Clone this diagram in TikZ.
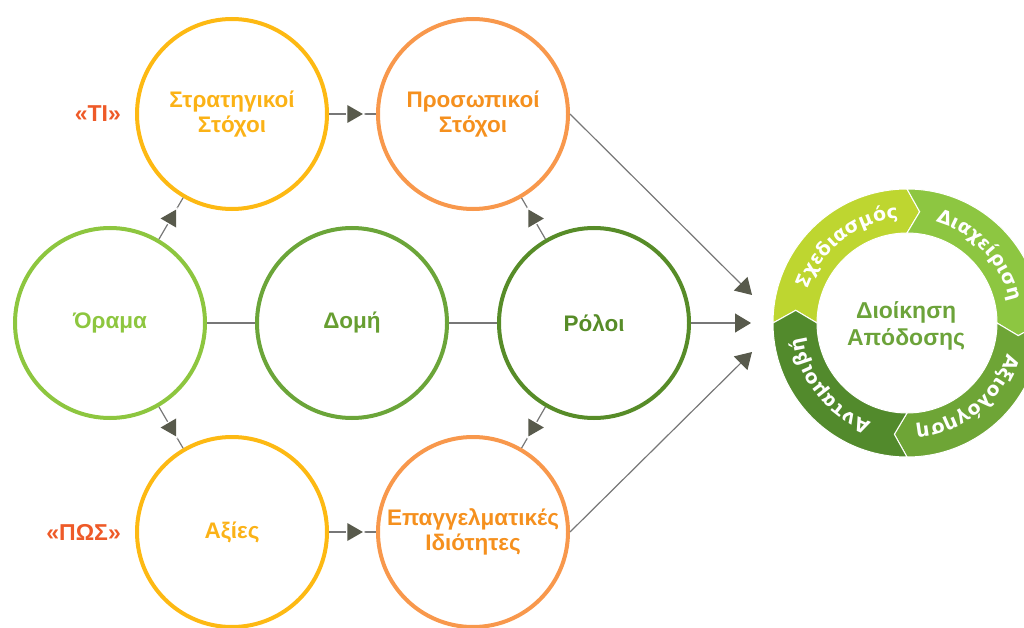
\documentclass[tikz,border=0pt]{standalone}
\usepackage{fontspec}
\setmainfont{Liberation Sans}
\newfontfamily\ringfam[LetterSpace=8]{DejaVu Sans}
\usetikzlibrary{arrows.meta,decorations.markings,decorations.text,calc}

\definecolor{gold}{HTML}{FDB913}
\definecolor{goldtxt}{HTML}{FBB216}
\definecolor{orng}{HTML}{F8984C}
\definecolor{orngtxt}{HTML}{F5901E}
\definecolor{lgreen}{HTML}{8DC63F}
\definecolor{mgreen}{HTML}{6BA539}
\definecolor{mgreentxt}{HTML}{679E31}
\definecolor{dgreen}{HTML}{578C28}
\definecolor{redtxt}{HTML}{EE5A28}
\definecolor{linegray}{HTML}{777777}
\definecolor{tipfill}{HTML}{585A4C}
\definecolor{segA}{HTML}{BED630}
\definecolor{segB}{HTML}{8DC641}
\definecolor{segC}{HTML}{6EA536}
\definecolor{segD}{HTML}{528A2C}
\definecolor{centertxt}{HTML}{6CA33A}

\newcommand\ringfont{\ringfam\bfseries\fontsize{19}{19}\selectfont}
\newcommand\ringseg[2]{%
  \fill[#2, draw=white, line width=1pt]
    ($(C)+(#1:134)$) arc[start angle=#1, end angle={#1-90}, radius=134]
    -- ($(C)+({#1-96.5}:112)$)
    -- ($(C)+({#1-90}:90)$) arc[start angle={#1-90}, end angle=#1, radius=90]
    -- ($(C)+({#1-6.5}:112)$) -- cycle;}

\begin{document}
\begin{tikzpicture}[x=1pt,y=1pt,
  bubble/.style={circle, draw, line width=4pt, minimum size=190pt, inner sep=0pt,
    align=center, font=\bfseries\fontsize{22.5}{25}\selectfont},
  conn/.style={draw=linegray, line width=1.2pt},
  midarrow/.style={postaction={decorate}, decoration={markings,
    mark=at position 0.5 with {
      \fill[white] (13,0) -- (-6.5,11.3) -- (-6.5,-11.3) -- cycle;
      \fill[tipfill] (10.4,0) -- (-5.2,9) -- (-5.2,-9) -- cycle;}}},
  bigconn/.style={draw=linegray, line width=1.2pt,
    -{Triangle[length=16pt,width=19pt,color=tipfill]}},
  sidelabel/.style={anchor=east, inner sep=0pt, text=redtxt,
    font=\bfseries\fontsize{23}{25}\selectfont},
  ringtext/.style={decorate, decoration={text along path, text={|\ringfont|#1},
    text align=center, text color=white}}
]
\useasboundingbox (0,0) rectangle (1024,-628);

% bubbles
\node[bubble, draw=gold, text=goldtxt] (S) at (232,-114) {Στρατηγικοί\\Στόχοι};
\node[bubble, draw=orng, text=orngtxt] (P) at (473,-114) {Προσωπικοί\\Στόχοι};
\node[bubble, draw=lgreen, text=lgreen] (O) at (110,-323) {Όραμα};
\node[bubble, draw=mgreen, text=mgreentxt] (D) at (352,-323) {Δομή};
\node[bubble, draw=dgreen, text=dgreen] (R) at (594,-323) {Ρόλοι};
\node[bubble, draw=gold, text=goldtxt] (A) at (232,-532) {Αξίες};
\node[bubble, draw=orng, text=orngtxt] (E) at (473,-532) {Επαγγελματικές\\Ιδιότητες};

% side labels
\node[sidelabel] (ti) at (121,-114) {«ΤΙ»};
\node[sidelabel] (pos) at (121,-532) {«ΠΩΣ»};

% connectors
\draw[conn, midarrow] (S) -- (P);
\draw[conn, midarrow] (O) -- (S);
\draw[conn, midarrow] (O) -- (A);
\draw[conn, midarrow] (A) -- (E);
\draw[conn, midarrow] (R) -- (P);
\draw[conn, midarrow] (R) -- (E);
\draw[conn] (O) -- (D);
\draw[conn] (D) -- (R);

% big arrows to the cycle
\coordinate (t1) at (752,-295);
\coordinate (t2) at (751,-323);
\coordinate (t3) at (752,-352);
\draw[bigconn] (P.east) -- (t1);
\draw[bigconn] (R) -- (t2);
\draw[bigconn] (E.east) -- (t3);

% cycle ring
\coordinate (C) at (907,-323);
\ringseg{180}{segA}
\ringseg{90}{segB}
\ringseg{0}{segC}
\ringseg{-90}{segD}

\path[ringtext=Σχεδιασμός] ($(C)+(175:105)$) arc[start angle=175, end angle=81, radius=105];
\path[ringtext=Διαχείριση] ($(C)+(90:105)$) arc[start angle=90, end angle=-4, radius=105];
\path[ringtext=Αξιολόγηση] ($(C)+(-4:105)$) arc[start angle=-4, end angle=-98, radius=105];
\path[ringtext=Ανταμοιβή] ($(C)+(-94:105)$) arc[start angle=-94, end angle=-188, radius=105];

\node[font=\bfseries\fontsize{23}{27}\selectfont, text=centertxt, align=center] (ctr) at (906,-326) {Διοίκηση\\Απόδοσης};
\end{tikzpicture}
\end{document}
